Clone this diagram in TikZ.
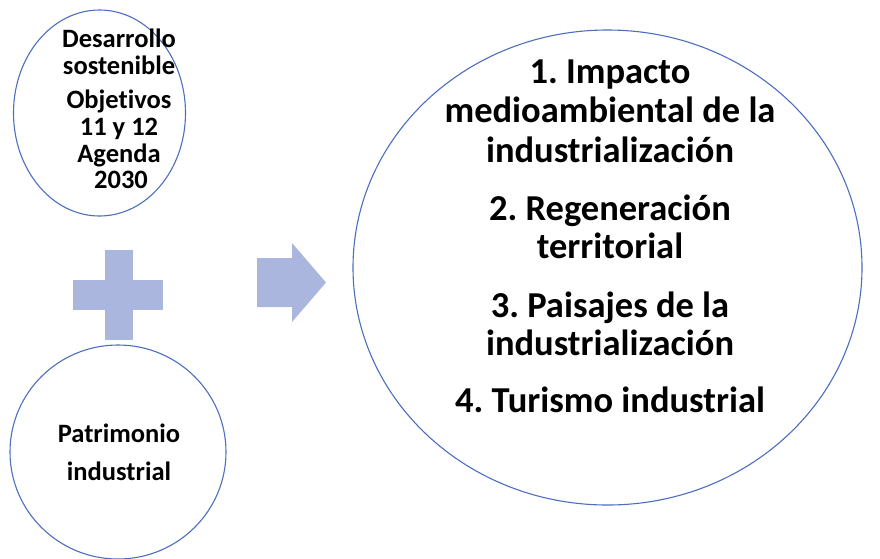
\documentclass[tikz,border=0pt]{standalone}
\usepackage{fontspec}
\setmainfont{Carlito}[Ligatures=NoCommon]
\usepackage{xcolor}
\usepackage{tikz}
\usetikzlibrary{shapes.geometric, positioning}
\definecolor{ringblue}{RGB}{76,110,190}
\definecolor{signblue}{RGB}{170,182,222}
\tikzstyle{ring}=[shape=ellipse, draw=ringblue, line width=1.1pt, inner sep=0]
\tikzstyle{sign}=[fill=signblue, draw=none]
\tikzstyle{small}=[font=\fontsize{26.5}{27}\selectfont\bfseries, anchor=base, inner sep=0]
\tikzstyle{big}=[font=\fontsize{36.5}{39}\selectfont\bfseries, anchor=base, inner sep=0]
\frenchspacing

\begin{document}
\begin{tikzpicture}[x=1pt, y=-1pt]
\useasboundingbox (0,0) rectangle (880,558);
\node[ring, minimum width=172pt, minimum height=206pt] (ods) at (99.5,113) {};
\node[ring, minimum width=216pt, minimum height=214pt] (pat) at (118,452) {};
\node[ring, minimum width=509pt, minimum height=475pt] (temas) at (607.5,267.5) {};
% texto de los circulos pequenos
\node[small] (t1) at (119,47) {Desarrollo};
\node[small] (t2) at (119,74) {sostenible};
\node[small] (t3) at (119,108) {Objetivos};
\node[small] (t4) at (119,135) {11 y 12};
\node[small] (t5) at (119,162) {Agenda};
\node[small] (t6) at (121,188) {2030};
\node[small] (p1) at (119,442) {Patrimonio};
\node[small] (p2) at (119,480) {industrial};
% temas
\node[big] (a1) at (610,83) {1. Impacto};
\node[big] (a2) at (610,122) {medioambiental de la};
\node[big] (a3) at (610,162) {industrialización};
\node[big] (b1) at (610,220) {2. Regeneración};
\node[big] (b2) at (610,258) {territorial};
\node[big] (c1) at (610,317) {3. Paisajes de la};
\node[big] (c2) at (610,355) {industrialización};
\node[big] (d1) at (610,412) {4. Turismo industrial};
% signo mas y flecha
\fill[sign] (105,250) rectangle (133,340);
\fill[sign] (73,280) rectangle (163,310);
\fill[sign] (257,258)--(292,258)--(292,243)--(326,282.5)--(292,322)--(292,307)--(257,307)--cycle;
\end{tikzpicture}
\end{document}
